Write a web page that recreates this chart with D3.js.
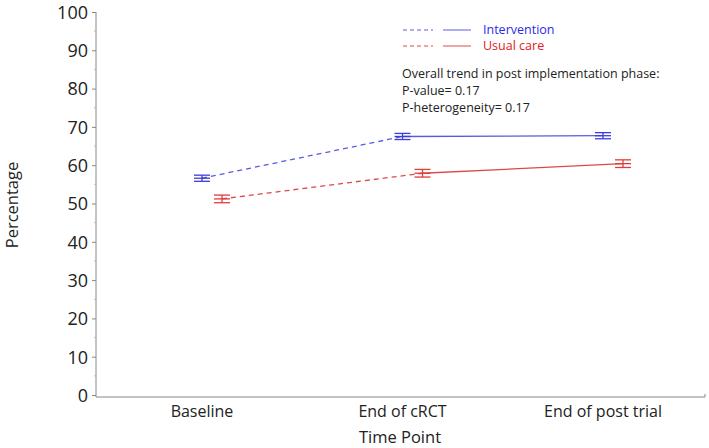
<!DOCTYPE html>
<html><head><meta charset="utf-8">
<script src="https://cdn.jsdelivr.net/npm/d3@7"></script>
<style>body{margin:0;background:#fff}svg{display:block}text{font-family:"Open Sans",sans-serif;fill:#222}</style>
</head><body><svg id="c" width="709" height="448"></svg>
<script>
const categories = ["Baseline", "End of cRCT", "End of post trial"];
const interventionValues = [56.6, 67.5, 67.7];
const interventionErr = [0.8, 0.8, 0.8];
const usualCareValues = [51.2, 57.9, 60.4];
const usualCareErr = [1.0, 1.0, 1.0];
const yTicks = [0,10,20,30,40,50,60,70,80,90,100];
const seriesNames = ["Intervention", "Usual care"];
const statsLines = ["Overall trend in post implementation phase:", "P-value= 0.17", "P-heterogeneity= 0.17"];

const svg = d3.select("#c");
const y = d3.scaleLinear().domain([0,100]).range([395,12]);
const x = d3.scalePoint().domain(categories).range([202,603]);
const axisColor = "#888";

// y axis
const yAxis = svg.append("g").attr("transform","translate(96,0)")
  .call(d3.axisLeft(y).tickValues(yTicks).tickSize(4).tickPadding(4));
yAxis.select(".domain").attr("stroke",axisColor).attr("d","M0,"+y(100)+"V"+(y(0)+2));
yAxis.selectAll(".tick line").attr("stroke",axisColor);
yAxis.selectAll(".tick text").style("font-size","18px").attr("fill","#222").attr("dy","0.35em");
// minor ticks
svg.append("g").selectAll("line").data(d3.range(5,100,10)).join("line")
  .attr("x1",94).attr("x2",96).attr("y1",d=>y(d)).attr("y2",d=>y(d)).attr("stroke","#bbb");

// x axis
svg.append("line").attr("x1",96).attr("x2",705).attr("y1",y(0)+2).attr("y2",y(0)+2).attr("stroke",axisColor);
svg.append("line").attr("x1",705).attr("x2",705).attr("y1",y(0)+2).attr("y2",y(0)-1).attr("stroke",axisColor);
svg.append("g").selectAll("text").data(categories).join("text")
  .attr("x",d=>x(d)).attr("y",417).attr("text-anchor","middle").style("font-size","16px").text(d=>d);

svg.append("text").attr("x",400).attr("y",443).attr("text-anchor","middle").style("font-size","16.5px").text("Time Point");
svg.append("text").attr("transform","translate(18,205) rotate(-90)").attr("text-anchor","middle").style("font-size","16.5px").text("Percentage");

const series = [
  {name:seriesNames[0], vals:interventionValues, err:interventionErr, color:"#3c3cdc", line:"#5a5ae0", text:"#2a2ae8", off:0},
  {name:seriesNames[1], vals:usualCareValues, err:usualCareErr, color:"#e03c3c", line:"#e04848", text:"#e02020", off:20}
];

series.forEach(s=>{
  const pts = categories.map((c,i)=>({x:x(c)+s.off, y:y(s.vals[i]), lo:y(s.vals[i]-s.err[i]), hi:y(s.vals[i]+s.err[i])}));
  const line = d3.line().x(d=>d.x).y(d=>d.y);
  svg.append("path").attr("d",line(pts.slice(0,2))).attr("fill","none").attr("stroke",s.line)
    .attr("stroke-width",1.3).attr("stroke-dasharray","5,4");
  svg.append("path").attr("d",line(pts.slice(1,3))).attr("fill","none").attr("stroke",s.line).attr("stroke-width",1.3);
  const g = svg.append("g").attr("stroke",s.color).attr("stroke-width",1.3);
  pts.forEach(p=>{
    g.append("line").attr("x1",p.x).attr("x2",p.x).attr("y1",p.hi).attr("y2",p.lo);
    [p.hi,p.y,p.lo].forEach(yy=>g.append("line").attr("x1",p.x-8).attr("x2",p.x+8).attr("y1",yy).attr("y2",yy));
  });
});

// legend
series.forEach((s,i)=>{
  const ly = 30 + i*16;
  svg.append("line").attr("x1",403).attr("x2",433).attr("y1",ly).attr("y2",ly).attr("stroke",s.line).attr("stroke-dasharray","4,3");
  svg.append("line").attr("x1",443).attr("x2",471).attr("y1",ly).attr("y2",ly).attr("stroke",s.line);
  svg.append("text").attr("x",483).attr("y",ly).attr("dy","0.35em").style("font-size","12.5px").style("fill",s.text).text(s.name);
});
svg.append("g").selectAll("text").data(statsLines).join("text")
  .attr("x",402).attr("y",(d,i)=>74+i*17).attr("dy","0.35em").style("font-size","12.5px").text(d=>d);
</script></body></html>
